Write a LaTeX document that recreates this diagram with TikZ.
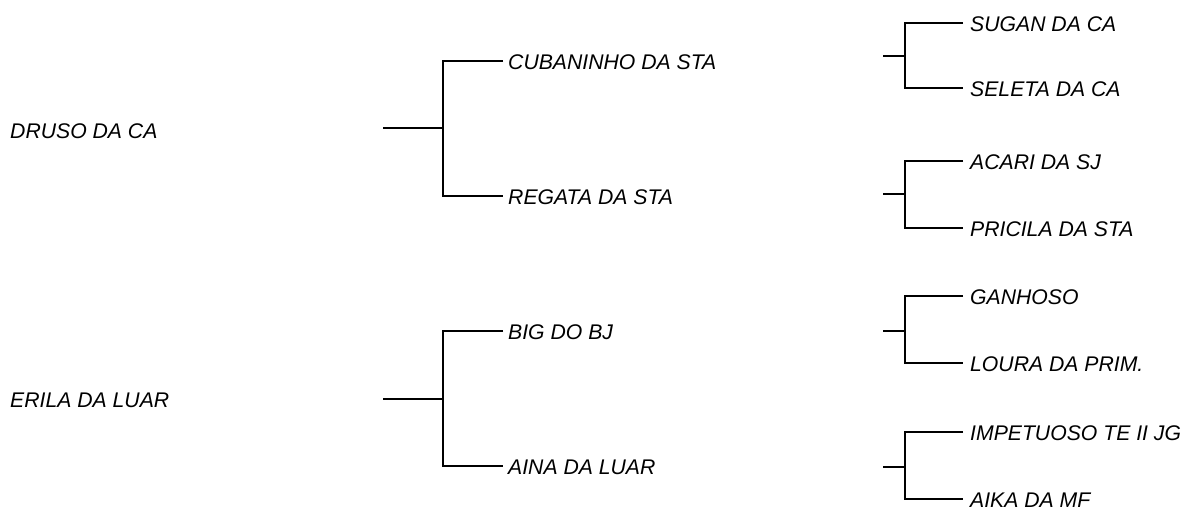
\documentclass[tikz,border=0pt]{standalone}
\usepackage{fontspec}
\setmainfont{Liberation Sans}
\begin{document}
\begin{tikzpicture}[x=1pt,y=-1pt,
  lab/.style={anchor=base west, inner sep=0pt, font=\fontsize{21.2}{25}\selectfont\itshape},
  br/.style={line width=1.8pt, line join=miter, black}]
\useasboundingbox (0,0) rectangle (1187,509);
% root labels
\node[lab] (druso) at (10,138) {DRUSO DA CA};
\node[lab] (erila) at (10,407) {ERILA DA LUAR};
% left group 1
\coordinate (s1) at (383,128);
\coordinate (j1) at (443,128);
\coordinate (t1) at (503,61);
\coordinate (b1) at (503,196);
\node[lab] (cub) at (508,69) {CUBANINHO DA STA};
\node[lab] (reg) at (508,204) {REGATA DA STA};
\draw[br] (s1) -- (j1);
\draw[br] (t1) -| (j1) |- (b1);
% left group 2
\coordinate (s2) at (383,399);
\coordinate (j2) at (443,399);
\coordinate (t2) at (503,331);
\coordinate (b2) at (503,466);
\node[lab] (big) at (508,339) {BIG DO BJ};
\node[lab] (aina) at (508,474) {AINA DA LUAR};
\draw[br] (s2) -- (j2);
\draw[br] (t2) -| (j2) |- (b2);
% right groups
\foreach \n/\ys/\yt/\yb/\ta/\tb in {
  g1/56/23/88/SUGAN DA CA/SELETA DA CA,
  g2/194/161/228/ACARI DA SJ/PRICILA DA STA,
  g3/331/296/363/GANHOSO/LOURA DA PRIM.,
  g4/467/432/499/IMPETUOSO TE II JG/AIKA DA MF}{
  \coordinate (\n s) at (883,\ys);
  \coordinate (\n j) at (905,\ys);
  \coordinate (\n t) at (963,\yt);
  \coordinate (\n b) at (963,\yb);
  \node[lab] (\n ta) at (970,\yt+8) {\ta};
  \node[lab] (\n tb) at (970,\yb+8) {\tb};
  \draw[br] (\n s) -- (\n j);
  \draw[br] (\n t) -| (\n j) |- (\n b);
}
\end{tikzpicture}
\end{document}
